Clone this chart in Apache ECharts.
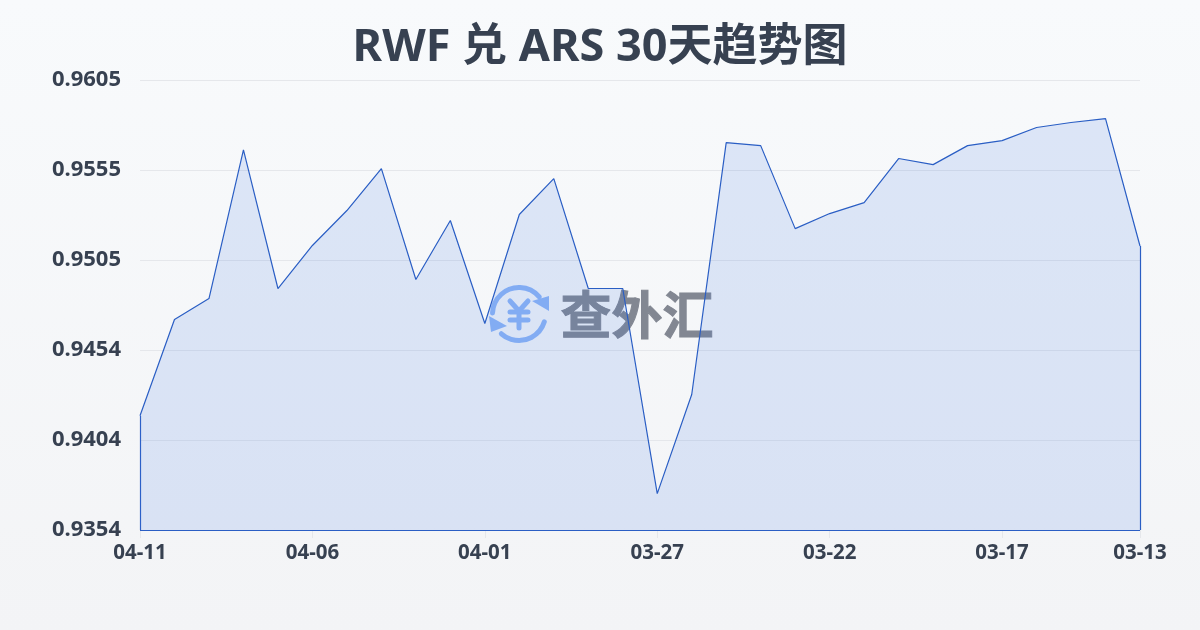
<!DOCTYPE html>
<html><head><meta charset="utf-8">
<script src="https://cdn.jsdelivr.net/npm/echarts@6/dist/echarts.min.js"></script>
<style>html,body{margin:0;padding:0;width:1200px;height:630px;overflow:hidden;background:linear-gradient(180deg,#f8fafc,#f3f4f6)}#c{width:1200px;height:630px}</style>
</head><body><div id="c"></div>
<script>
const titleText = 'RWF 兑 ARS 30天趋势图';
const watermarkText = '查外汇';
const dates = ['04-11','04-10','04-09','04-08','04-07','04-06','04-05','04-04','04-03','04-02','04-01','03-31','03-30','03-29','03-28','03-27','03-26','03-25','03-24','03-23','03-22','03-21','03-20','03-19','03-18','03-17','03-16','03-15','03-14','03-13'];
const rates = [0.94177,0.94714,0.94831,0.95660,0.94887,0.95127,0.95322,0.95556,0.94937,0.95266,0.94692,0.95300,0.95500,0.94887,0.94887,0.93743,0.94296,0.95701,0.95684,0.95221,0.95305,0.95366,0.95612,0.95578,0.95684,0.95712,0.95785,0.95813,0.95835,0.95124];
const yMin = 0.9354, yMax = 0.9605, yStep = 0.00502;
const shownDates = [0,5,10,15,20,25,29];
const lineColor = '#2a5ec4';
const logoColor = '#8fb6f6';
const textColor = '#374151';
const font = '"Noto Sans","Noto Sans CJK SC",sans-serif';
const last = dates.length - 1;
const logoStroke = {stroke:logoColor,lineWidth:5,fill:null,lineCap:'round'};
const chart = echarts.init(document.getElementById('c'), null, {renderer:'canvas'});
chart.setOption({
  animation:false,
  backgroundColor:'transparent',
  title:{text:titleText,left:'center',top:21,textStyle:{fontFamily:font,fontSize:45,fontWeight:'bold',color:textColor}},
  grid:{left:140,right:60,top:80,bottom:100,containLabel:false},
  xAxis:{type:'category',data:dates,boundaryGap:false,
    axisLine:{show:false},
    axisTick:{show:true,length:8,lineStyle:{color:'#e5e7eb'},customValues:shownDates},
    axisLabel:{color:textColor,fontFamily:font,fontSize:20.5,fontWeight:'bold',margin:13,customValues:shownDates,hideOverlap:false},
    splitLine:{show:false}},
  yAxis:{type:'value',min:yMin,max:yMax,interval:yStep,
    axisLine:{show:false},axisTick:{show:false},
    axisLabel:{color:textColor,fontFamily:font,fontSize:22,fontWeight:'bold',margin:19,formatter:v=>v.toFixed(4),showMaxLabel:true},
    splitLine:{show:true,lineStyle:{color:'#e5e7eb',width:1}}},
  graphic:[
    {type:'group',left:489,top:285,z:0,silent:true,children:[
      {type:'arc',shape:{cx:31,cy:30,r:26.5,startAngle:-3.1,endAngle:-0.7},style:logoStroke},
      {type:'arc',shape:{cx:31,cy:30,r:26.5,startAngle:0.3,endAngle:2.3},style:logoStroke},
      {type:'polygon',shape:{points:[[61,12],[61,27],[44,17]]},style:{fill:logoColor}},
      {type:'polygon',shape:{points:[[1,32],[3,48],[19,42]]},style:{fill:logoColor}},
      {type:'polyline',shape:{points:[[22,17],[31,27],[40,17]]},style:logoStroke},
      {type:'line',shape:{x1:31,y1:27,x2:31,y2:44},style:logoStroke},
      {type:'line',shape:{x1:22,y1:28,x2:40,y2:28},style:logoStroke},
      {type:'line',shape:{x1:22,y1:36,x2:40,y2:36},style:logoStroke}
    ]},
    {type:'text',left:560,top:289,z:0,silent:true,style:{text:watermarkText,fontFamily:'"Noto Sans CJK SC"',fontSize:51,fontWeight:'bold',fill:'#828792',stroke:'#828792',lineWidth:1}}
  ],
  series:[{type:'line',data:rates,symbol:'none',smooth:false,z:5,
    lineStyle:{color:lineColor,width:1.2},
    areaStyle:{color:'rgba(55,110,228,0.2)',origin:'start'},
    markLine:{silent:true,symbol:'none',label:{show:false},lineStyle:{color:lineColor,width:1.2,type:'solid'},
      data:[
        [{xAxis:0,yAxis:yMin},{xAxis:0,yAxis:rates[0]}],
        [{xAxis:last,yAxis:yMin},{xAxis:last,yAxis:rates[last]}],
        [{xAxis:0,yAxis:yMin},{xAxis:last,yAxis:yMin}]
      ]}
  }]
});
</script></body></html>
